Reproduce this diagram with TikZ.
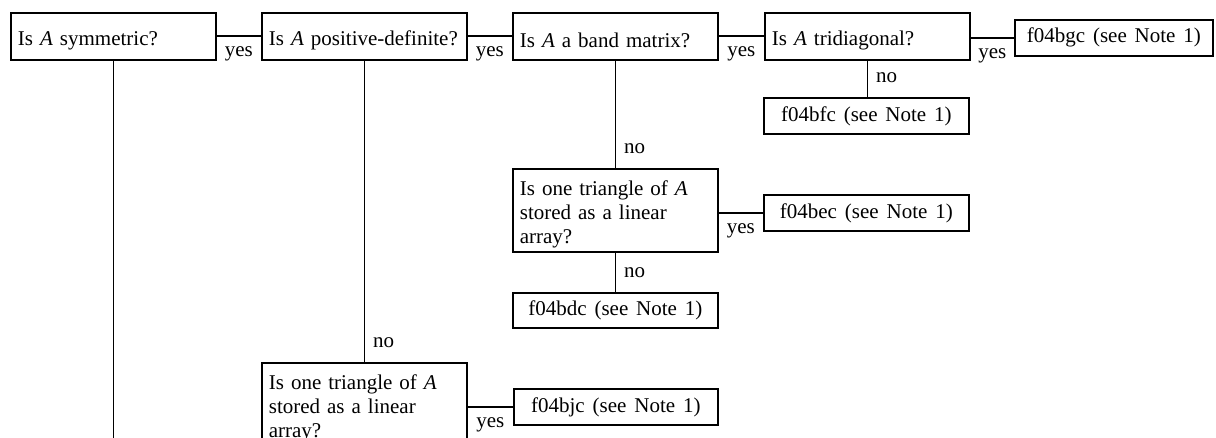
\documentclass[tikz,border=0pt]{standalone}
\usepackage{fontspec}
\setmainfont{Liberation Serif}[WordSpace=1.5]
\tikzset{
    qbox/.style={draw, line width=0.85pt, anchor=north west, text width=95.5pt,
        inner xsep=3.5pt, inner ysep=0pt, align=left, text height=11.6pt,
        minimum height=23.5pt},
    abox/.style={draw, line width=0.85pt, anchor=north west, minimum width=102.5pt,
        minimum height=18pt, inner sep=0pt, align=center},
    yeslab/.style={midway, below, yshift=-1.5pt},
    nolab/.style={pos=1, anchor=west, xshift=0.6pt, yshift=9.5pt},
    link/.style={line width=0.85pt}
}
\begin{document}
\begin{tikzpicture}[x=0.5pt, y=-0.5pt, font=\fontsize{10.5pt}{12pt}\selectfont]
        \clip (0,0) rectangle (1216,438);
        % questions along the top
        \node[qbox] (q1) at (10,12) {Is \textit{A} symmetric?};
        \node[qbox] (q2) at (261,12) {Is \textit{A} positive-definite?};
        \node[qbox] (q3) at (512,12) {Is \textit{A} a band matrix?};
        \node[qbox] (q4) at (764,12) {Is \textit{A} tridiagonal?};
        % storage questions
        \node[qbox, minimum height=41.5pt] (q5) at (512,168) {Is one triangle of \textit{A}\\stored as a linear\\array?};
        \node[qbox, minimum height=41.5pt] (q6) at (261,362) {Is one triangle of \textit{A}\\stored as a linear\\array?};
        % routines
        \node[abox, minimum width=99pt] (r1) at (1014,19) {f04bgc (see Note 1)};
        \node[abox] (r2) at (763,97) {f04bfc (see Note 1)};
        \node[abox] (r3) at (763,194) {f04bec (see Note 1)};
        \node[abox, minimum height=17.5pt] (r4) at (512,292) {f04bdc (see Note 1)};
        \node[abox, minimum width=102pt] (r5) at (513,388) {f04bjc (see Note 1)};
        \coordinate (q1end) at (q1.south |- 0,470);
        % yes branches
        \draw[link] (q1.east) -- (q2.west) node[yeslab] {yes};
        \draw[link] (q2.east) -- (q3.west) node[yeslab] {yes};
        \draw[link] (q3.east) -- (q4.west) node[yeslab] {yes};
        \draw[link] (r1.west -| q4.east) -- (r1.west) node[yeslab] {yes};
        \draw[link] (r3.west -| q5.east) -- (r3.west) node[yeslab] {yes};
        \draw[link] (r5.west -| q6.east) -- (r5.west) node[yeslab] {yes};
        % no branches
        \draw[link] (q4.south) -- (q4.south |- r2.north) node[nolab] {no};
        \draw[link] (q3.south) -- (q5.north) node[nolab] {no};
        \draw[link] (q5.south) -- (r4.north) node[nolab] {no};
        \draw[link] (q2.south) -- (q6.north) node[nolab] {no};
        \draw[link] (q1.south) -- (q1end);
    \end{tikzpicture}
\end{document}
